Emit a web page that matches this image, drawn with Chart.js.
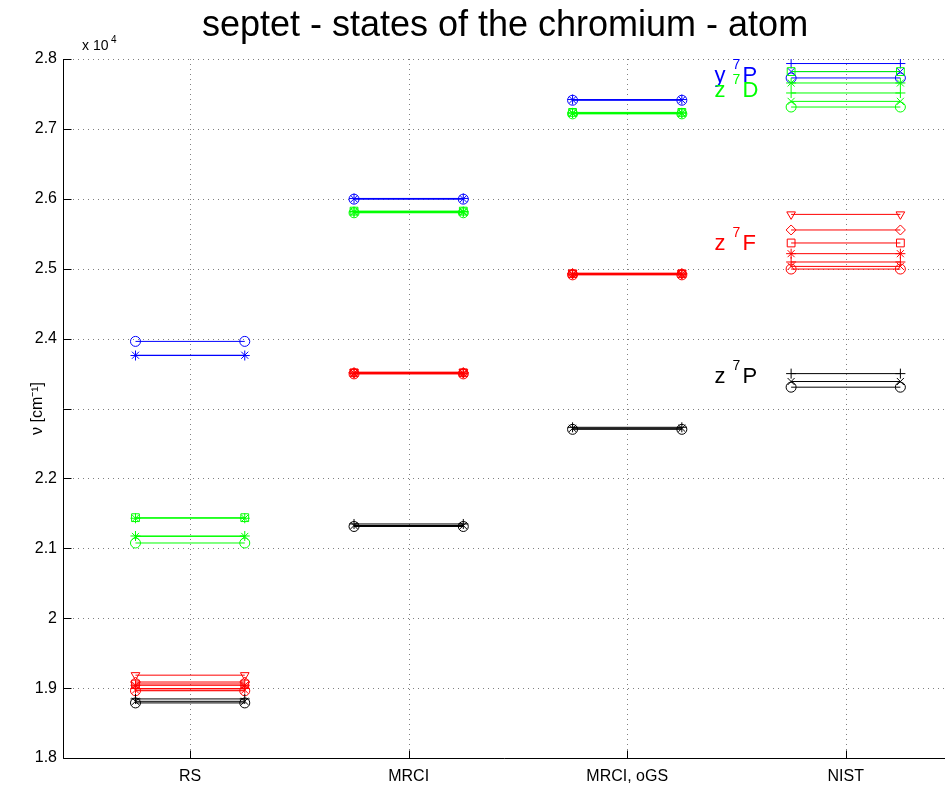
<!DOCTYPE html>
<html>
<head>
<meta charset="utf-8">
<script src="https://cdn.jsdelivr.net/npm/chart.js@4/dist/chart.umd.min.js"></script>
<style>
  html, body { margin: 0; padding: 0; background: #fff; }
  #wrap { width: 946px; height: 787px; }
</style>
</head>
<body>
<div id="wrap"><canvas id="c" width="946" height="787"></canvas></div>
<script>
// Methods along the x axis
const methods = ['RS', 'MRCI', 'MRCI, oGS', 'NIST'];

// y ticks in cm^-1 (labelled in units of 10^4); 2.3 is left unlabelled for the axis title
const yTickValues = [18000, 19000, 20000, 21000, 22000, 23000, 24000, 25000, 26000, 27000, 28000];
const yTickLabels = ['1.8', '1.9', '2', '2.1', '2.2', '', '2.4', '2.5', '2.6', '2.7', '2.8'];

// Septet term energies in cm^-1, one entry per J level (lowest J first)
const z7P_RS   = [18788, 18811, 18845];
const z7P_MRCI = [21312, 21326, 21348];
const z7P_oGS  = [22702, 22716, 22731];
const z7P_NIST = [23305, 23386, 23499];

const z7F_RS   = [18962, 18972, 18994, 19040, 19059, 19087, 19185];
const z7F_MRCI = [23495, 23499, 23503, 23507, 23511, 23515, 23520];
const z7F_oGS  = [24912, 24916, 24920, 24924, 24928, 24932, 24936];
const z7F_NIST = [24995, 25033, 25096, 25215, 25368, 25554, 25777];

const z7D_RS   = [21076, 21170, 21176, 21430, 21438];
const z7D_MRCI = [25800, 25806, 25812, 25818, 25824];
const z7D_oGS  = [27215, 27220, 27225, 27230, 27236];
const z7D_NIST = [27313, 27394, 27514, 27657, 27820];

const y7P_RS   = [23960, 23762, 23758];
const y7P_MRCI = [25995, 26000, 26005];
const y7P_oGS  = [27410, 27415, 27420];
const y7P_NIST = [27729, 27820, 27935];

// Marker per J level, in the same order as the energies
const markers = ['circle', 'crossRot', 'cross', 'star', 'rect', 'rectRot', 'triangleDown'];

const terms = [
  { color: '#000000', levels: [z7P_RS, z7P_MRCI, z7P_oGS, z7P_NIST] },
  { color: '#ff0000', levels: [z7F_RS, z7F_MRCI, z7F_oGS, z7F_NIST] },
  { color: '#00ff00', levels: [z7D_RS, z7D_MRCI, z7D_oGS, z7D_NIST] },
  { color: '#0000ff', levels: [y7P_RS, y7P_MRCI, y7P_oGS, y7P_NIST] }
];

const halfWidth = 0.25;
const datasets = [];
terms.forEach(term => {
  term.levels.forEach((vals, m) => {
    const xc = m + 1;
    vals.forEach((v, j) => {
      const mk = markers[j];
      const down = mk === 'triangleDown';
      datasets.push({
        data: [{ x: xc - halfWidth, y: v }, { x: xc + halfWidth, y: v }],
        borderColor: term.color,
        borderWidth: 1,
        pointStyle: down ? 'triangle' : mk,
        pointRotation: down ? 180 : 0,
        pointRadius: mk === 'rect' ? 5.5 : 5,
        pointBorderColor: term.color,
        pointBackgroundColor: 'rgba(0,0,0,0)',
        pointBorderWidth: 1,
        showLine: true,
        fill: false,
        tension: 0
      });
    });
  });
});

const FONT = '"Liberation Sans", Arial, Helvetica, sans-serif';

// Term labels beside the NIST column (x in axis units, baseline energy in cm^-1)
const termLabels = [
  { pre: 'y', sup: '7', post: 'P', color: '#0000ff', at: 3.4, value: 27789 },
  { pre: 'z', sup: '7', post: 'D', color: '#00ff00', at: 3.4, value: 27574 },
  { pre: 'z', sup: '7', post: 'F', color: '#ff0000', at: 3.4, value: 25386 },
  { pre: 'z', sup: '7', post: 'P', color: '#000000', at: 3.4, value: 23484 }
];

const decor = {
  id: 'decor',
  beforeDatasetsDraw(chart) {
    const { ctx, chartArea: a, scales: { x, y } } = chart;
    const right = chart.width - 1;
    ctx.save();
    // dotted grid
    ctx.strokeStyle = '#808080';
    ctx.lineWidth = 1;
    ctx.setLineDash([1, 4]);
    y.ticks.forEach(t => {
      const py = Math.round(y.getPixelForValue(t.value)) + 0.5;
      ctx.beginPath(); ctx.moveTo(a.left, py); ctx.lineTo(right, py); ctx.stroke();
    });
    x.ticks.forEach(t => {
      const px = Math.round(x.getPixelForValue(t.value)) + 0.5;
      ctx.beginPath(); ctx.moveTo(px, a.top); ctx.lineTo(px, a.bottom); ctx.stroke();
    });
    ctx.setLineDash([]);
    // axis lines with inward ticks
    ctx.strokeStyle = '#000';
    const L = Math.round(a.left) + 0.5, B = Math.round(a.bottom) + 0.5;
    ctx.beginPath(); ctx.moveTo(L, a.top); ctx.lineTo(L, B); ctx.lineTo(right, B); ctx.stroke();
    y.ticks.forEach(t => {
      const py = Math.round(y.getPixelForValue(t.value)) + 0.5;
      ctx.beginPath(); ctx.moveTo(L, py); ctx.lineTo(L + 8, py); ctx.stroke();
    });
    x.ticks.forEach(t => {
      const px = Math.round(x.getPixelForValue(t.value)) + 0.5;
      ctx.beginPath(); ctx.moveTo(px, B); ctx.lineTo(px, B - 8); ctx.stroke();
    });
    ctx.restore();
  },
  afterDraw(chart) {
    const { ctx, scales: { x, y } } = chart;
    ctx.save();
    ctx.fillStyle = '#000';
    // title
    ctx.font = '36px ' + FONT;
    ctx.textAlign = 'center';
    ctx.textBaseline = 'alphabetic';
    ctx.fillText('septet - states of the chromium - atom', 505, 36);
    // exponent of the y axis
    ctx.textAlign = 'left';
    ctx.font = '14px ' + FONT;
    ctx.fillText('x 10', 82, 50);
    ctx.font = '10px ' + FONT;
    ctx.fillText('4', 111, 43);
    // y axis title
    ctx.save();
    ctx.translate(42, y.getPixelForValue(23000));
    ctx.rotate(-Math.PI / 2);
    ctx.textAlign = 'center';
    ctx.font = '16px ' + FONT;
    ctx.fillText('\u03BD [cm\u207B\u00B9]', 0, 0);
    ctx.restore();
    // term labels
    termLabels.forEach(t => {
      const xl = x.getPixelForValue(t.at);
      const by = y.getPixelForValue(t.value) + 8;
      ctx.fillStyle = t.color;
      ctx.textAlign = 'left';
      ctx.font = '22px ' + FONT;
      ctx.fillText(t.pre, xl, by);
      ctx.font = '14px ' + FONT;
      ctx.fillText(t.sup, xl + 18, by - 13);
      ctx.font = '22px ' + FONT;
      ctx.fillText(t.post, xl + 28, by);
    });
    ctx.restore();
  }
};

new Chart(document.getElementById('c'), {
  type: 'scatter',
  data: { datasets },
  options: {
    responsive: false,
    animation: false,
    layout: { padding: { top: 59, right: 1, left: 0, bottom: 0 } },
    plugins: { legend: { display: false }, tooltip: { enabled: false }, title: { display: false } },
    scales: {
      x: {
        type: 'linear',
        min: 0.4183,
        max: 4.429,
        afterBuildTicks: s => { s.ticks = methods.map((_, i) => ({ value: i + 1 })); },
        afterFit: s => { s.height = 29; },
        grid: { display: false, drawTicks: false },
        border: { display: false },
        ticks: {
          color: '#000',
          font: { family: FONT, size: 16 },
          padding: 9,
          maxRotation: 0,
          autoSkip: false,
          callback: v => methods[Math.round(v) - 1]
        }
      },
      y: {
        type: 'linear',
        min: 18000,
        max: 28000,
        afterBuildTicks: s => { s.ticks = yTickValues.map(v => ({ value: v })); },
        afterFit: s => { s.width = 63; },
        grid: { display: false, drawTicks: false },
        border: { display: false },
        ticks: {
          color: '#000',
          font: { family: FONT, size: 16 },
          padding: 6,
          autoSkip: false,
          callback: v => yTickLabels[yTickValues.indexOf(v)]
        }
      }
    }
  },
  plugins: [decor]
});
</script>
</body>
</html>
